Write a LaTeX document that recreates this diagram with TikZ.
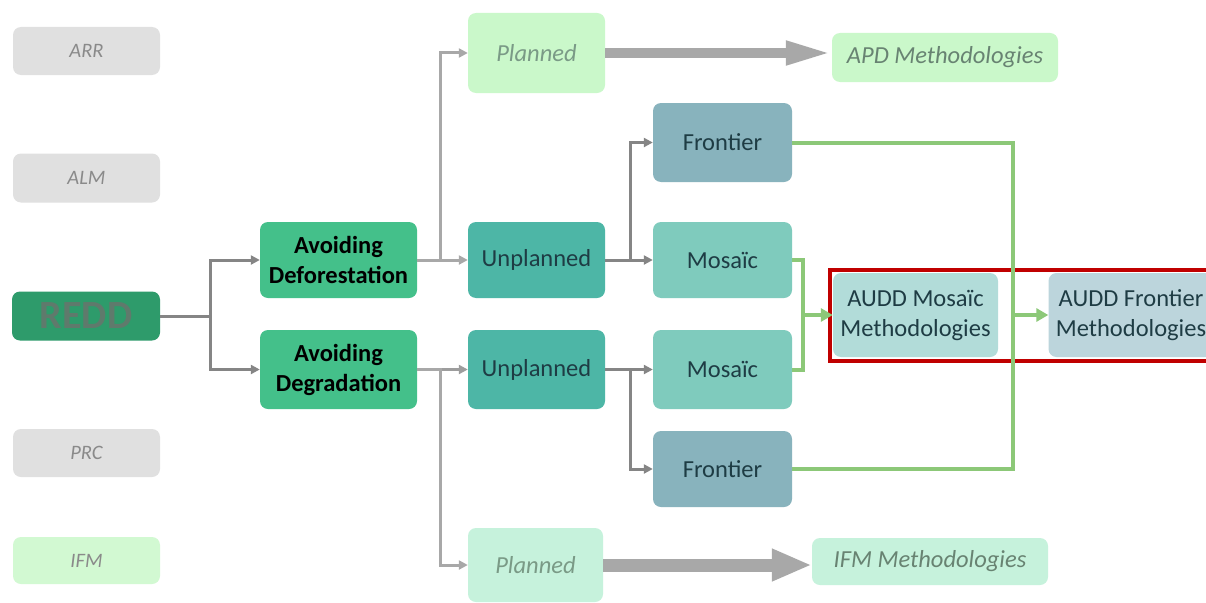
\documentclass[tikz,border=0pt]{standalone}
\usepackage{fontspec}
\setmainfont{Carlito}
\usetikzlibrary{arrows.meta}
\definecolor{boxgray}{HTML}{E0E0E0}
\definecolor{txtgray}{HTML}{8A8A8A}
\definecolor{ltgreen}{HTML}{CAF8CA}
\definecolor{mint}{HTML}{C6F2DC}
\definecolor{reddfill}{HTML}{2E9B6B}
\definecolor{reddtxt}{HTML}{5F7A6C}
\definecolor{avfill}{HTML}{44C08A}
\definecolor{unfill}{HTML}{4DB6A6}
\definecolor{mofill}{HTML}{7FCBBD}
\definecolor{frfill}{HTML}{88B3BD}
\definecolor{amfill}{HTML}{B2DCD9}
\definecolor{affill}{HTML}{BCD5DC}
\definecolor{darktxt}{HTML}{1E3C44}
\definecolor{plantxt}{HTML}{7A9A86}
\definecolor{gline}{HTML}{8CC878}
\definecolor{redline}{HTML}{C00000}
\definecolor{conn}{HTML}{858585}
\definecolor{connlt}{HTML}{A8A8A8}
\definecolor{bigar}{HTML}{A8A8A8}
\tikzset{
  box/.style={rounded corners=8pt, inner sep=2pt, align=center, font=\fontsize{24.5}{28}\selectfont},
  sidebox/.style={box, fill=boxgray, text=txtgray, font=\fontsize{20.5}{24}\selectfont\itshape},
  darkbox/.style={box, text=darktxt},
  garrow/.style={draw=conn, line width=3pt, -{Triangle[length=9pt,width=9pt]}},
  garrowlt/.style={garrow, draw=connlt},
  gline/.style={draw=gline, line width=4pt},
  greenarrow/.style={gline, -{Triangle[length=12pt,width=13pt]}},
  twoline/.style={font=\fontsize{24.5}{30}\selectfont}
}
\begin{document}
\begin{tikzpicture}[x=1pt,y=-1pt]
\clip (0,0) rectangle (1206,602);
\fill[white] (0,0) rectangle (1206,602);
% left column
\node[sidebox, minimum width=147pt, minimum height=48pt] (arr) at (86.5,51) {ARR};
\node[sidebox, minimum width=147pt, minimum height=49pt] (alm) at (86.5,178) {ALM};
\node[box, fill=reddfill, text=reddtxt, minimum width=148pt, minimum height=49pt, font=\fontsize{40}{44}\selectfont\bfseries] (redd) at (86,316) {REDD};
\node[sidebox, minimum width=147pt, minimum height=48pt] (prc) at (86.5,453) {PRC};
\node[sidebox, fill=ltgreen!85!white, minimum width=147pt, minimum height=47pt] (ifm) at (86.5,560.5) {IFM};
% avoiding
\node[box, fill=avfill, text=black, font=\fontsize{24.5}{30}\selectfont\bfseries, minimum width=157pt, minimum height=76pt] (avdef) at (338.5,260) {Avoiding\\Deforestation};
\node[box, fill=avfill, text=black, font=\fontsize{24.5}{30}\selectfont\bfseries, minimum width=157pt, minimum height=79pt] (avdeg) at (338.5,369.5) {Avoiding\\Degradation};
% planned / unplanned
\node[box, fill=ltgreen, text=plantxt, font=\fontsize{24.5}{28}\selectfont\itshape, minimum width=137pt, minimum height=80pt] (plt) at (536.5,53) {Planned};
\node[darkbox, fill=unfill, minimum width=137pt, minimum height=76pt] (unt) at (536.5,260) {Unplanned};
\node[darkbox, fill=unfill, minimum width=137pt, minimum height=79pt] (unb) at (536.5,369.5) {Unplanned};
\node[box, fill=mint, text=plantxt, font=\fontsize{24.5}{28}\selectfont\itshape, minimum width=135pt, minimum height=74pt] (plb) at (535.5,565) {Planned};
% frontier / mosaic
\node[darkbox, fill=frfill, minimum width=139pt, minimum height=79pt] (frt) at (722.5,142.5) {Frontier};
\node[darkbox, fill=mofill, minimum width=139pt, minimum height=76pt] (mot) at (722.5,260) {Mosa\"ic};
\node[darkbox, fill=mofill, minimum width=139pt, minimum height=79pt] (mob) at (722.5,369.5) {Mosa\"ic};
\node[darkbox, fill=frfill, minimum width=139pt, minimum height=76pt] (frb) at (722.5,469) {Frontier};
% methodologies
\node[box, fill=ltgreen, text=plantxt!85!black, font=\fontsize{24.5}{28}\selectfont\itshape, minimum width=226pt, minimum height=49pt] (apd) at (945,57.5) {APD Methodologies};
\node[box, fill=mint, text=plantxt!85!black, font=\fontsize{24.5}{28}\selectfont\itshape, minimum width=236pt, minimum height=47pt] (ifmm) at (930,561.5) {IFM Methodologies};
\node[darkbox, fill=amfill, twoline, minimum width=165pt, minimum height=84pt] (auddm) at (915.5,315) {AUDD Mosa\"ic\\Methodologies};
\node[darkbox, fill=affill, twoline, minimum width=165pt, minimum height=84pt] (auddf) at (1131,315) {AUDD Frontier\\Methodologies};
% red frame
\draw[redline, line width=4pt] (830,270) rectangle (1215,361);
% REDD connectors
\draw[garrow] (redd.east) -- ++(50,0) |- (avdef.west);
\draw[garrow] (redd.east) -- ++(50,0) |- (avdeg.west);
% avoiding connectors
\draw[garrowlt] (avdef.east) -- (unt.west);
\draw[garrowlt] (avdef.east) -- ++(23,0) |- (plt.west);
\draw[garrow, draw=conn!80!white] (avdeg.east) -- (unb.west);
\draw[garrowlt] (avdeg.east) -- ++(23,0) |- (plb.west);
% unplanned connectors
\draw[garrow] (unt.east) -- (mot.west);
\draw[garrow] (unt.east) -- ++(25,0) |- (frt.west);
\draw[garrow] (unb.east) -- (mob.west);
\draw[garrow] (unb.east) -- ++(25,0) |- (frb.west);
% big arrows
\draw[bigar, line width=10pt, -{Triangle[length=46pt,width=22pt]}] (plt.east) -- (plt.east -| apd.west);
\draw[bigar, line width=13pt, -{Triangle[length=40pt,width=30pt]}] (plb.east) -- (plb.east -| ifmm.west);
% green connectors
\draw[gline] (frt.east) -- ++(221,0) |- (frb.east);
\draw[gline] (mot.east) -- ++(11,0) |- (mob.east);
\coordinate (mv) at (803,315);
\coordinate (fv) at (1013,315);
\draw[greenarrow] (mv) -- (auddm.west);
\draw[greenarrow] (fv) -- (auddf.west);
\end{tikzpicture}
\end{document}
